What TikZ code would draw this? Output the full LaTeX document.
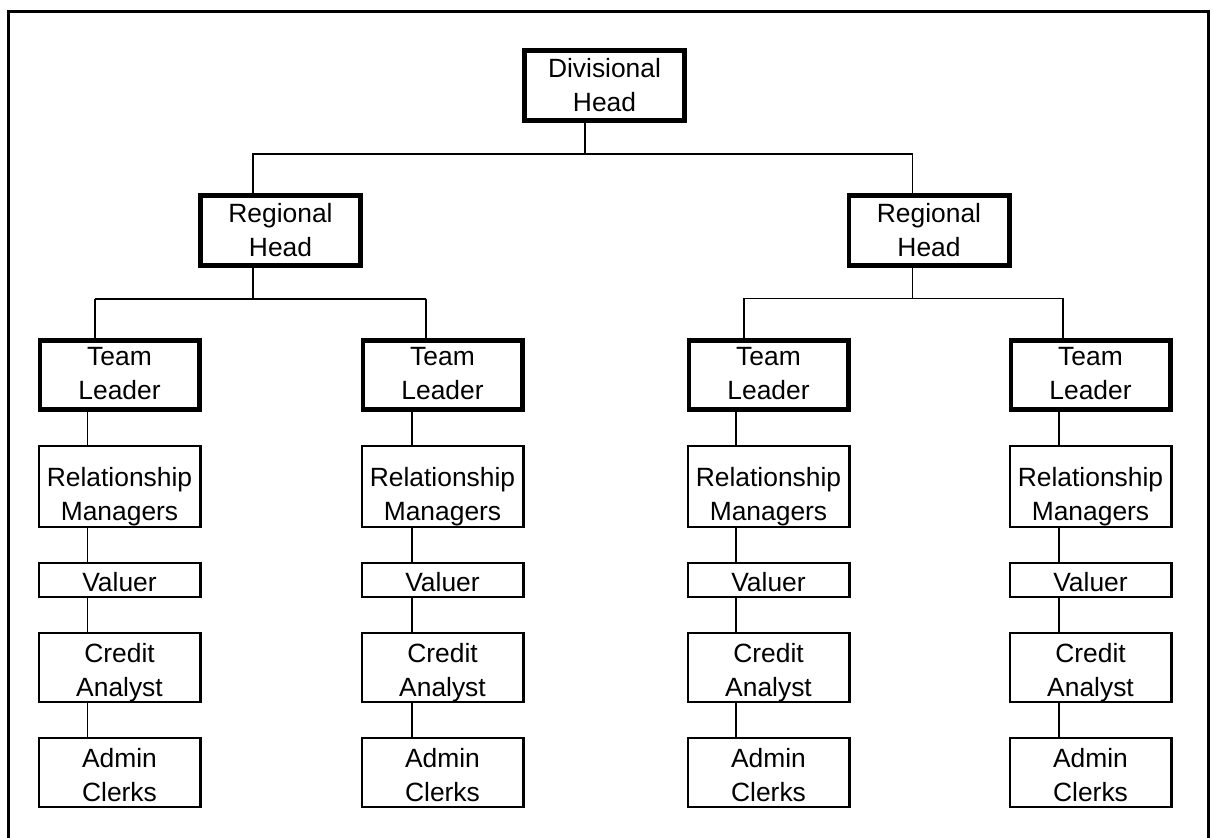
\documentclass[tikz,border=0pt]{standalone}
\usepackage{fontspec}
\setmainfont{Liberation Sans}
% two centred lines whose baseline is the first line
\newcommand\boxlines[2]{\begin{tabular}[t]{@{}c@{}}#1\\#2\end{tabular}}
\begin{document}
\begin{tikzpicture}[x=0.5pt,y=-0.5pt,
  basebox/.style={draw, inner sep=0pt, minimum height=0pt,
    font=\fontsize{13.2}{17}\selectfont},
  thickbox/.style={basebox, line width=2.4pt},
  thinbox/.style={basebox, line width=1.2pt, minimum width=80.8pt},
  headrow/.style={minimum width=80.1pt, text height=13.4pt, text depth=21.7pt},
  leadrow/.style={minimum width=79.6pt, text height=12.8pt, text depth=21.8pt},
  mgrrow/.style={text height=20.3pt, text depth=20pt},
  valrow/.style={text height=14.4pt, text depth=2.4pt},
  lowrow/.style={text height=14.4pt, text depth=19.9pt},
  link/.style={line width=0.9pt},
  frame/.style={line width=1.5pt}]
\useasboundingbox (0,0) rectangle (1214,838);

% outer frame (its lower edge lies below the page)
\draw[frame] (8,870) -- (8,12) -- (1208,12) -- (1208,870);

% top of the hierarchy
\node[thickbox, headrow] (dh)  at (604.5,85.5) {\boxlines{Divisional}{Head}};
\node[thickbox, headrow] (rh1) at (280.5,230.5) {\boxlines{Regional}{Head}};
\node[thickbox, headrow] (rh2) at (929,230.5) {\boxlines{Regional}{Head}};

% bus junctions
\coordinate (b0) at (585,154);
\coordinate (bl) at (253,154);
\coordinate (br) at (912.5,154);
\coordinate (ml) at (253,299);
\coordinate (mr) at (912.5,298.5);
\coordinate (d1) at (95,299);
\coordinate (d2) at (426,299);
\coordinate (d3) at (744,298.5);
\coordinate (d4) at (1063,298.5);

\draw[link] (dh.south -| b0) -- (b0);
\draw[link] (rh1.north -| bl) -- (bl) -- (br) -- (rh2.north -| br);
\draw[link] (rh1.south -| ml) -- (ml);
\draw[link] (rh2.south -| mr) -- (mr);

% the four teams
\foreach \i/\cx/\vx in {1/119.5/87.5, 2/442.5/412, 3/768.5/736, 4/1090.5/1059} {
  \node[thickbox, leadrow] (tl\i) at (\cx,375) {\boxlines{Team}{Leader}};
  \node[thinbox, mgrrow] (rm\i) at (\cx,486.5) {\boxlines{Relationship}{Managers}};
  \node[thinbox, valrow] (va\i) at (\cx,580) {Valuer};
  \node[thinbox, lowrow] (ca\i) at (\cx,667.5) {\boxlines{Credit}{Analyst}};
  \node[thinbox, lowrow] (ac\i) at (\cx,772.5) {\boxlines{Admin}{Clerks}};
  \coordinate (v\i) at (\vx,0);
  \draw[link] (d\i) -- (tl\i.north -| d\i);
  \draw[link] (tl\i.south -| v\i) -- (rm\i.north -| v\i);
  \draw[link] (rm\i.south -| v\i) -- (va\i.north -| v\i);
  \draw[link] (va\i.south -| v\i) -- (ca\i.north -| v\i);
  \draw[link] (ca\i.south -| v\i) -- (ac\i.north -| v\i);
}

\draw[link] (d1) -- (d2);
\draw[link] (d3) -- (d4);
\end{tikzpicture}
\end{document}
